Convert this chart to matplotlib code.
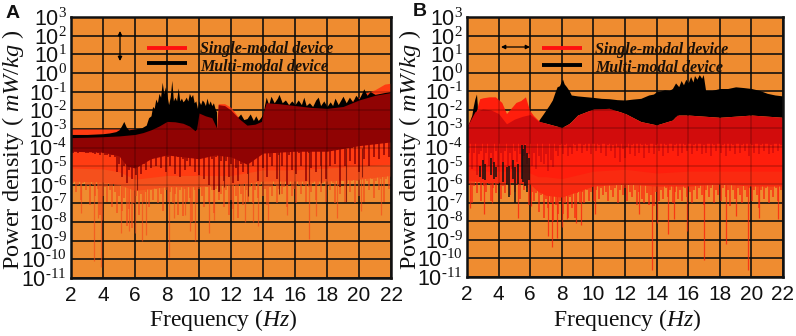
import matplotlib
matplotlib.use("Agg")
import matplotlib.pyplot as plt
import numpy as np

plt.rcParams["font.family"] = ["Liberation Sans", "DejaVu Sans"]
plt.rcParams["mathtext.fontset"] = "custom"
plt.rcParams["mathtext.rm"] = "Liberation Serif"
plt.rcParams["mathtext.it"] = "Liberation Serif:italic"
plt.rcParams["mathtext.default"] = "regular"

# values are log10(mW/kg)
# ---- panel A ----
a_black_x = [2, 3, 4, 4.4, 4.8, 5.0, 5.15, 5.3, 5.45, 5.6, 6.0, 6.4, 6.7, 6.85, 7.0, 7.1, 7.2, 7.3, 7.4, 7.5, 7.6, 7.7, 7.8, 7.9, 8.0, 8.1,
             8.2, 8.3, 8.4, 8.5, 8.6, 8.7, 8.8, 8.9, 9.0, 9.1, 9.2, 9.3, 9.4, 9.5, 9.6, 9.7, 9.8, 9.9, 10.0, 10.1, 10.2, 10.3, 10.4,
             10.5, 10.6, 10.7, 10.8, 10.9, 11.0, 11.1]
a_black_y = [-3.3, -3.3, -3.26, -3.22, -3.15, -3.05, -2.85, -2.6, -2.9, -3.05, -3.0, -2.95, -2.8, -2.4, -2.3, -1.8, -1.9, -1.4, -1.6, -1.1, -1.3, -0.5, -1.1, -0.75, -1.2, -1.7,
             -1.3, -0.4, -1.5, -1.3, -1.5, -0.8, -1.5, -1.35, -1.55, -1.45, -1.3, -1.5, -1.1, -1.3, -1.15, -1.6, -1.5, -1.9, -1.5, -1.7, -1.45, -1.55, -1.75,
             -1.35, -1.7, -1.5, -1.75, -1.6, -1.9, -2.1]
a_black2_x = [11.9, 12.4, 12.6, 12.8, 13.0, 13.2, 13.4, 13.55, 13.7, 13.85, 14.0, 14.1, 14.2, 14.35, 14.5, 14.7, 14.9, 15.0, 15.2, 15.4, 15.6, 15.8, 16.0, 16.2, 16.4, 16.55, 16.7, 16.9, 17.1,
              17.3, 17.45, 17.6, 17.8, 18.0, 18.2, 18.35, 18.5, 18.7, 18.9, 19.0, 19.2, 19.4, 19.6, 19.8, 20.0, 20.2, 20.3, 20.5, 20.7, 21.0, 21.3, 21.6, 22]
a_black2_y = [-2.1, -2.4, -2.2, -2.5, -2.45, -2.2, -2.55, -2.3, -2.55, -2.4, -2.2, -1.7, -1.3, -1.7, -1.25, -1.6, -1.35, -1.15, -1.6, -1.45, -1.7, -1.5, -1.7, -1.45, -1.7, -1.3, -1.75, -1.6, -1.8,
              -1.45, -1.3, -1.75, -1.5, -1.8, -1.55, -1.75, -1.35, -1.7, -1.4, -1.25, -1.6, -1.3, -1.55, -1.2, -1.4, -1.05, -0.85, -1.2, -1.0, -1.15, -1.1, -1.05, -1.0]
a_dark_x = [2, 3, 4, 5, 6, 6.5, 7, 7.5, 8, 8.5, 9, 9.4, 9.75, 9.85, 10.0, 10.4, 10.8, 11.1, 11.2, 11.6, 12, 12.5, 13, 13.5, 13.9, 14.0, 14.2, 15, 16, 17, 18, 19, 20, 21, 22]
a_dark_y = [-3.47, -3.45, -3.42, -3.38, -3.3, -3.2, -3.05, -2.85, -2.6, -2.62, -2.7, -2.85, -3.1, -3.0, -2.15, -2.3, -2.4, -2.95, -1.7, -1.75, -2.0, -2.45, -2.8, -2.75, -2.6, -2.15, -1.6, -1.65, -1.75, -1.85, -1.9, -1.8, -1.45, -1.2, -1.05]
a_dark_low_x = [2, 4, 5, 5.5, 6, 7, 8, 9, 10, 11, 12, 13, 14, 16, 18, 20, 22]
a_dark_low_y = [-4.2, -4.25, -4.45, -5.0, -5.1, -4.6, -4.4, -4.5, -4.6, -4.4, -4.5, -4.9, -4.3, -4.2, -4.2, -3.9, -3.7]
a_red_top_x = [11.2, 11.6, 12, 12.4, 13, 19, 20, 20.5, 21, 21.3, 21.6, 22]
a_red_top_y = [-1.65, -1.65, -1.85, -2.3, -2.75, -1.7, -1.3, -1.05, -0.9, -0.75, -0.6, -0.55]
a_solid_low_x = [2, 4, 5, 6, 7, 8, 10, 12, 14, 16, 18, 20, 22]
a_solid_low_y = [-5.1, -5.15, -5.3, -5.7, -5.6, -5.5, -5.5, -5.5, -5.2, -5.2, -5.1, -5.0, -4.9]
a_floor_x = [2, 4, 5, 6, 7, 8, 10, 12, 14, 16, 18, 20, 22]
a_floor_y = [-5.8, -5.85, -6.0, -6.3, -6.2, -6.1, -6.1, -6.0, -5.8, -5.8, -5.8, -5.7, -5.5]
# dense comb of the lower edge, left to right
a_comb_y = [-6.9, -5.9, -6.4, -6.0, -6.8, -5.9, -6.3, -6.0, -7.1, -6.0, -6.6, -6.2, -7.6,
            -6.6, -6.1, -6.9, -6.3, -7.2, -6.4, -7.5, -6.6, -7.4, -6.7, -8.2, -7.3, -8.3,
            -7.0, -6.6, -7.6, -6.5, -6.9, -6.4, -7.2, -6.3, -6.8, -6.2, -7.0, -6.5, -7.4,
            -6.3, -6.9, -6.4, -7.0, -6.5, -7.6, -6.3, -7.7, -6.2, -6.9, -6.7, -8.0, -6.3, -7.0,
            -6.2, -6.6, -7.2, -6.1, -6.9, -6.3, -7.5, -6.2, -6.8, -6.5, -7.2, -6.3, -7.6, -6.8,
            -7.3, -6.6, -7.8, -6.5, -7.1, -6.3, -6.9, -6.1, -7.0, -6.3, -6.7, -6.0, -6.6, -6.2,
            -7.1, -6.1, -6.6, -6.0, -7.0, -6.2, -6.5, -6.1, -7.2, -6.0, -6.6, -6.2, -7.0, -6.0,
            -6.5, -6.0, -6.9, -6.1, -6.4, -5.9, -6.8, -6.0, -6.4, -5.9, -6.9, -6.0, -6.3, -5.9,
            -7.0, -6.0, -6.5, -5.8, -6.9, -5.9, -6.4, -5.8, -7.0, -5.8, -6.6, -5.7, -6.9, -5.8,
            -6.3, -5.7, -6.7, -5.8, -6.3, -5.7, -6.9, -5.7, -6.2, -5.6]
a_spike_x = [2.6, 3.45, 3.7, 3.85, 3.95, 5.1, 5.65, 6.0, 6.45, 6.7, 8.1, 8.45, 9.1, 9.45, 9.75, 10.6, 10.95, 12.1, 12.9, 13.4, 13.7, 14.3, 15.5, 16.9, 17.3, 18.6, 20.1, 21.4]
a_spike_y = [-7.5, -10.1, -7.8, -10.4, -7.9, -8.6, -8.5, -8.6, -9.0, -8.7, -9.9, -7.8, -7.6, -8.5, -9.0, -8.6, -7.9, -7.9, -8.0, -8.0, -8.2, -7.9, -7.6, -8.9, -7.7, -7.8, -7.4, -7.6]
a_dark_comb_y = [-4.2, -4.3, -4.2, -4.3, -4.25, -4.2, -4.3, -4.3, -4.2, -4.3, -4.35, -4.3, -4.4,
                 -4.3, -4.4, -4.4, -4.5, -4.4, -4.5, -5.3, -4.9, -5.6, -5.0, -5.9, -5.2, -5.7,
                 -5.1, -5.5, -5.0, -5.4, -4.9, -5.2, -4.6, -5.1, -4.4, -5.0, -4.3, -5.1, -4.4,
                 -5.3, -4.5, -5.0, -4.4, -5.4, -4.5, -5.6, -4.6, -5.2, -4.7, -5.0, -4.5, -5.3, -4.6,
                 -5.5, -4.3, -5.7, -4.5, -6.0, -4.6, -6.3, -4.5, -6.4, -4.7, -5.8, -4.7, -5.6, -4.9,
                 -5.9, -5.1, -5.8, -4.9, -5.3, -4.5, -5.4, -4.3, -5.0, -4.4, -5.8, -4.2, -5.1, -4.3,
                 -5.6, -4.5, -5.0, -4.3, -5.7, -4.4, -5.0, -4.2, -6.0, -4.4, -5.2, -4.2, -5.4, -4.3,
                 -5.0, -4.2, -5.8, -4.3, -5.1, -4.1, -5.3, -4.2, -5.0, -4.1, -5.7, -4.2, -5.0, -4.0,
                 -4.9, -4.1, -6.1, -4.0, -5.0, -3.9, -4.7, -4.0, -4.9, -3.9, -5.3, -3.8, -4.6, -3.8,
                 -5.0, -3.8, -4.5, -3.7, -4.6, -3.7, -4.4, -3.6, -4.5, -3.6]
a_dark_spike_x = [6.15, 11.25, 11.55, 13.05, 15.0, 16.9, 19.2, 17.6, 20.2]
a_dark_spike_y = [-6.3, -6.3, -6.1, -6.6, -6.5, -6.0, -6.9, -5.9, -5.6]

# ---- panel B ----
b_black_x = [6.55, 6.8, 7.0, 7.2, 7.4, 7.55, 7.7, 7.85, 7.95, 8.05, 8.15, 8.3, 8.45, 8.6, 9, 9.5, 10, 10.5, 11, 11.5, 12, 12.5, 13, 13.5, 13.8, 14, 14.2, 14.5, 14.8, 15, 15.2,
             15.4, 15.55, 15.7, 15.85, 16, 16.15, 16.3, 16.4, 16.55, 16.7, 16.85, 16.95, 17.1, 17.5, 18, 18.5, 19, 19.5, 20, 20.5, 21, 21.5, 22]
b_black_y = [-2.55, -2.25, -2.0, -1.75, -1.47, -1.1, -0.76, -0.7, -0.5, -0.35, -0.6, -0.76, -0.95, -1.2, -1.25, -1.29, -1.33, -1.38, -1.4, -1.45, -1.47, -1.42, -1.38, -1.2, -1.15, -1.02, -1.0, -0.92, -0.95, -0.85, -0.55,
             -0.75, -0.42, -0.65, -0.35, -0.55, -0.2, -0.5, -0.15, -0.35, -0.1, -0.3, -0.1, -0.95, -0.95, -0.85, -0.85, -0.76, -0.8, -0.85, -0.95, -1.11, -1.2, -1.25]
b_black_low_x = [6.55, 7, 8, 8.5, 9, 10, 11, 12, 13, 14, 15, 15.3, 16, 18, 20, 22]
b_black_low_y = [-2.63, -2.72, -2.95, -2.72, -2.28, -1.95, -1.92, -2.19, -2.63, -2.81, -2.55, -2.28, -2.28, -2.4, -2.28, -2.4]
b_left_x = [2, 2.15, 2.3, 2.4, 2.5, 2.6, 2.65]
b_left_y = [-2.9, -2.65, -2.3, -1.8, -1.4, -1.15, -1.7]
b_left_low_y = [-2.95, -2.85, -2.7, -2.5, -2.3, -2.0, -1.9]
b_red_x = [2, 2.3, 2.6, 2.8, 3, 3.4, 3.8, 4.2, 4.5, 4.8, 5.1, 5.4, 5.7, 5.95, 6.2, 6.5, 6.8]
b_red_y = [-2.9, -2.3, -2.0, -1.4, -1.35, -1.3, -1.3, -1.6, -2.2, -1.9, -1.6, -1.5, -1.3, -2.0, -2.3, -2.55, -2.75]
b_dark_x = [2, 2.5, 3, 3.5, 4, 4.5, 5, 5.5, 6, 6.5, 7, 8, 8.5, 9, 10, 11, 12, 13, 14, 15, 15.3, 16, 18, 20, 22]
b_dark_y = [-2.9, -2.1, -1.95, -2.0, -2.2, -2.75, -2.5, -2.35, -2.25, -2.6, -2.72, -2.95, -2.72, -2.28, -1.95, -1.92, -2.19, -2.63, -2.81, -2.55, -2.28, -2.28, -2.4, -2.28, -2.4]
b_solid_low_x = [2, 3, 4, 5, 6, 6.5, 7, 8, 9, 10, 12, 14, 16, 18, 20, 22]
b_solid_low_y = [-5.2, -5.3, -5.3, -5.3, -5.4, -5.6, -5.6, -5.7, -5.5, -5.3, -5.2, -5.4, -5.3, -5.3, -5.3, -5.3]
b_floor_x = [2, 3, 4, 5, 6, 6.5, 7, 8, 9, 10, 12, 14, 16, 18, 20, 22]
b_floor_y = [-5.8, -5.9, -5.9, -5.9, -6.0, -6.4, -6.6, -6.7, -6.4, -6.1, -6.0, -6.1, -6.1, -6.0, -6.1, -6.1]
b_comb_y = [-6.6, -6.0, -7.0, -6.1, -6.5, -5.9, -6.9, -6.1, -6.4, -6.0, -6.9, -6.2, -6.5,
            -6.0, -6.8, -6.1, -6.5, -6.0, -6.6, -5.9, -6.4, -6.0, -6.8, -6.0, -6.3, -6.2,
            -7.1, -6.4, -6.9, -6.5, -7.5, -6.6, -7.8, -6.8, -7.3, -7.0, -8.0, -7.1, -7.6,
            -6.9, -7.6, -7.0, -7.8, -6.7, -7.3, -7.8, -6.5, -7.0, -6.4, -7.0, -6.3, -6.9, -6.4,
            -6.9, -6.3, -6.8, -6.2, -6.6, -6.4, -6.9, -6.3, -6.7, -6.2, -7.0, -6.3, -6.6, -6.2,
            -6.9, -6.4, -6.7, -6.3, -7.1, -6.4, -6.8, -7.0, -6.5, -7.1, -6.6, -7.2, -6.4, -6.9,
            -6.3, -6.8, -6.2, -6.7, -6.3, -7.0, -6.4, -6.8, -6.3, -6.9, -6.2, -6.7, -6.4, -7.0,
            -6.3, -6.8, -6.2, -6.6, -7.1, -6.3, -6.7, -6.2, -7.0, -6.3, -6.6, -6.9, -6.2, -6.7,
            -6.3, -7.2, -6.3, -6.8, -6.2, -6.6, -7.0, -6.3, -6.7, -6.2, -6.9, -6.3, -6.6, -7.3,
            -6.3, -6.8, -6.2, -7.0, -6.3, -6.7, -6.2, -6.9, -6.3, -7.4]
b_spike_x = [2.2, 3.05, 3.6, 5.2, 6.05, 7.15, 7.4, 7.7, 8.0, 8.3, 8.9, 9.2, 10.1, 12.9, 13.7, 14.0, 14.7, 15.1, 15.9, 17.0, 18.4, 19.0, 19.8, 20.5, 21.7]
b_spike_y = [-7.3, -7.6, -7.0, -7.8, -7.2, -8.8, -9.4, -8.9, -8.3, -7.9, -8.1, -8.2, -7.6, -7.6, -10.6, -8.1, -8.7, -7.9, -8.5, -10.1, -9.2, -7.7, -10.6, -7.8, -7.9]
b_dark_comb_y = [-4.9, -4.3, -5.2, -4.3, -5.5, -4.4, -4.2, -4.9, -4.3, -5.0, -4.3, -4.9, -4.2,
                 -5.1, -4.3, -4.8, -4.2, -5.0, -4.3, -5.2, -4.2, -4.8, -4.4, -5.1, -4.5, -4.9,
                 -4.4, -5.0, -4.3, -5.2, -4.5, -4.8, -4.9, -4.4, -5.3, -4.7, -5.1, -4.2, -4.5,
                 -3.9, -4.4, -3.9, -4.5, -4.0, -4.4, -3.9, -4.2, -3.8, -4.3, -3.9, -4.2, -3.8, -4.4,
                 -3.8, -4.2, -3.9, -4.3, -3.8, -4.5, -3.9, -4.2, -3.9, -4.6, -4.0, -4.8, -4.1, -4.6,
                 -4.0, -4.4, -3.9, -4.5, -3.8, -4.3, -3.9, -4.6, -3.9, -4.3, -3.8, -4.4, -3.9, -4.2,
                 -3.8, -4.5, -3.9, -4.3, -3.8, -4.2, -3.9, -4.5, -3.8, -4.3, -3.9, -4.2, -3.8, -4.4,
                 -3.9, -4.2, -3.8, -4.4, -3.9, -4.3, -3.8, -4.5, -3.9, -4.2, -3.8, -4.3, -3.9, -4.5,
                 -3.8, -4.2, -3.9, -4.4, -3.8, -4.3, -3.9, -4.2, -3.8, -4.5, -3.9, -4.3, -3.8, -4.4,
                 -3.9, -4.2, -3.8, -4.4, -3.9, -4.3, -3.8, -4.2, -3.9, -4.4]
b_black_spike_x = [2.85, 3.0, 3.15, 3.5, 3.7, 3.85, 4.3, 4.5, 4.65, 4.9, 5.05, 5.25, 5.45, 5.55, 5.7, 5.8, 5.9]
b_black_spike_top = [-5.0, -4.7, -4.9, -4.6, -4.8, -5.1, -4.8, -5.1, -5.0, -4.7, -5.1, -4.9, -3.9, -4.1, -3.9, -4.3, -4.6]
b_black_spike_low = [-5.6, -5.7, -5.8, -5.5, -5.7, -5.6, -5.9, -6.0, -6.7, -5.7, -7.0, -6.0, -5.7, -5.9, -6.1, -6.4, -5.8]

# axis stuff
x_ticks = list(range(2, 24, 2))
y_exps = list(range(-11, 4))

ORANGE = "#EF8C30"
RED_A = "#FF3C12"
COMB_A = "#F5501C"
DARK_A = "#900303"
RED_B = "#FF1E0C"
COMB_B = "#FA2A10"
DARK_B = "#D20C0C"
W, H = 796, 336


def lin(vals):
    return 10.0 ** np.array(vals)


def comb_x(vals):
    return np.linspace(2, 22, len(vals))


def setup_axes(px_left, px_right, px_top, px_bot, ylabel_x, xlabel_x):
    ax = plt.gcf().add_axes([px_left / W, 1 - px_bot / H, (px_right - px_left) / W, (px_bot - px_top) / H])
    ax.set_facecolor(ORANGE)
    ax.set_yscale("log")
    ax.set_xlim(2, 22)
    ax.set_ylim(1e-11, 1e3)
    ax.set_xticks(x_ticks)
    ax.set_yticks([10.0 ** e for e in y_exps])
    ax.set_yticklabels(["10$^{\\text{%d}}$" % e for e in y_exps], fontsize=15.5, color="#111111")
    ax.minorticks_off()
    ax.tick_params(axis="x", length=0, pad=6, labelsize=15, labelcolor="#111111")
    ax.tick_params(axis="y", length=0, pad=3)
    ax.grid(True, color="#111111", lw=1.1)
    ax.set_axisbelow(True)
    for s in ax.spines.values():
        s.set_linewidth(1.8)
        s.set_color("#111111")
        s.set_zorder(8)
    plt.gcf().text(ylabel_x / W, 1 - 150 / H, "Power density ( $\\mathit{mW/kg}$ )", rotation=90, ha="center", va="center",
                   fontsize=17.5, family="Liberation Serif", color="#111111")
    plt.gcf().text(xlabel_x / W, 1 - 320 / H, "Frequency ($\\mathit{Hz}$)", ha="center", va="center",
                   fontsize=17, family="Liberation Serif", color="#111111")
    return ax


def grid_tint(ax):
    # grid shows through the red only faintly
    ax.vlines(x_ticks, 1e-11, 1e3, color="black", lw=1.1, alpha=0.22, zorder=6)
    ax.hlines([10.0 ** e for e in y_exps], 2, 22, color="black", lw=1.1, alpha=0.22, zorder=6)


def legend_bits(ax, x0, x1, tx, y1, y2, ty1, ty2):
    tr = ax.figure.transFigure
    for y, ty, c, label in [(y1, ty1, "#FF1010", "Single-modal device"), (y2, ty2, "#000000", "Multi-modal device")]:
        ax.plot([x0 / W, x1 / W], [1 - y / H, 1 - y / H], color=c, lw=2.8, transform=tr, zorder=9, solid_capstyle="butt")
        ax.text(tx / W, 1 - ty / H, label, transform=tr, fontsize=11.5, family="Liberation Serif",
                style="italic", weight="bold", color="#1a1008", va="center", zorder=9)


def arrow(x0, y0, x1, y1):
    plt.gca().annotate("", xy=(x0 / W, 1 - y0 / H), xytext=(x1 / W, 1 - y1 / H), xycoords="figure fraction",
                       textcoords="figure fraction", zorder=9,
                       arrowprops=dict(arrowstyle="<|-|>", color="black", lw=0.9, mutation_scale=6, shrinkA=0, shrinkB=0))


fig = plt.figure(figsize=(W / 100, H / 100), dpi=100, facecolor="white")

# A
ax = setup_axes(71, 391, 17, 278, 13, 223)
ax.vlines(a_spike_x, lin(a_spike_y), 1e-5, color=COMB_A, lw=0.9, alpha=0.75, zorder=2)
ax.vlines(comb_x(a_comb_y), lin(a_comb_y), 1e-5, color=COMB_A, lw=1.2, alpha=0.85, zorder=2)
ax.fill_between(a_floor_x, lin(a_floor_y), 1e-4, color=COMB_A, lw=0, zorder=2)
ax.fill_between(a_solid_low_x, lin(a_solid_low_y), 1e-3, color=RED_A, lw=0, zorder=2)
ax.fill_between(a_red_top_x, 1e-3, lin(a_red_top_y), color=RED_A, lw=0, zorder=2)
ax.fill_between(a_black_x, 1e-4, lin(a_black_y), color="black", lw=0, zorder=3)
ax.fill_between(a_black2_x, 1e-3, lin(a_black2_y), color="black", lw=0, zorder=3)
ax.vlines(comb_x(a_dark_comb_y), lin(a_dark_comb_y), 10.0 ** -3.6, color=DARK_A, lw=1.1, zorder=4)
ax.vlines(a_dark_spike_x, lin(a_dark_spike_y), 1e-4, color="#7A1208", lw=0.8, alpha=0.85, zorder=4)
ax.fill_between(a_dark_low_x, lin(a_dark_low_y), 10.0 ** -3.5, color=DARK_A, lw=0, zorder=4)
ax.fill_between(a_dark_x, 10.0 ** -3.6, lin(a_dark_y), color=DARK_A, lw=0, zorder=4)
grid_tint(ax)
legend_bits(ax, 147, 187, 200, 48, 63, 49, 67)
arrow(120, 31, 120, 61)
fig.text(6 / W, 1 - 13 / H, "A", fontsize=14, weight="bold", va="center", color="#111111")

# B
ax = setup_axes(467, 783, 17, 277, 410, 627)
ax.vlines(b_spike_x, lin(b_spike_y), 1e-5, color=COMB_B, lw=0.9, alpha=0.85, zorder=2)
ax.vlines(comb_x(b_comb_y), lin(b_comb_y), 1e-5, color=COMB_B, lw=1.2, alpha=0.85, zorder=2)
ax.fill_between(b_floor_x, lin(b_floor_y), 1e-4, color=COMB_B, lw=0, zorder=2)
ax.fill_between(b_solid_low_x, lin(b_solid_low_y), 1e-3, color=RED_B, lw=0, zorder=2)
ax.fill_between(b_red_x, 1e-3, lin(b_red_y), color=RED_B, lw=0, zorder=2)
ax.fill_between(b_left_x, lin(b_left_low_y), lin(b_left_y), color="black", lw=0, zorder=3)
ax.fill_between(b_black_x, lin(np.interp(b_black_x, b_black_low_x, b_black_low_y)), lin(b_black_y), color="black", lw=0, zorder=3)
ax.vlines(comb_x(b_dark_comb_y), lin(b_dark_comb_y), 10.0 ** -3.4, color=DARK_B, lw=1.1, zorder=4)
ax.fill_between(b_dark_x, 10.0 ** -3.8, lin(b_dark_y), color=DARK_B, lw=0, zorder=4)
ax.vlines(b_black_spike_x, lin(b_black_spike_low), lin(b_black_spike_top), color="#111111", lw=1.1, zorder=5)
grid_tint(ax)
legend_bits(ax, 542, 582, 595, 48, 65, 50, 68)
arrow(501, 47, 530, 47)
fig.text(413 / W, 1 - 11 / H, "B", fontsize=14, weight="bold", va="center", color="#111111")

fig.savefig("out.png", dpi=100, facecolor="white")
